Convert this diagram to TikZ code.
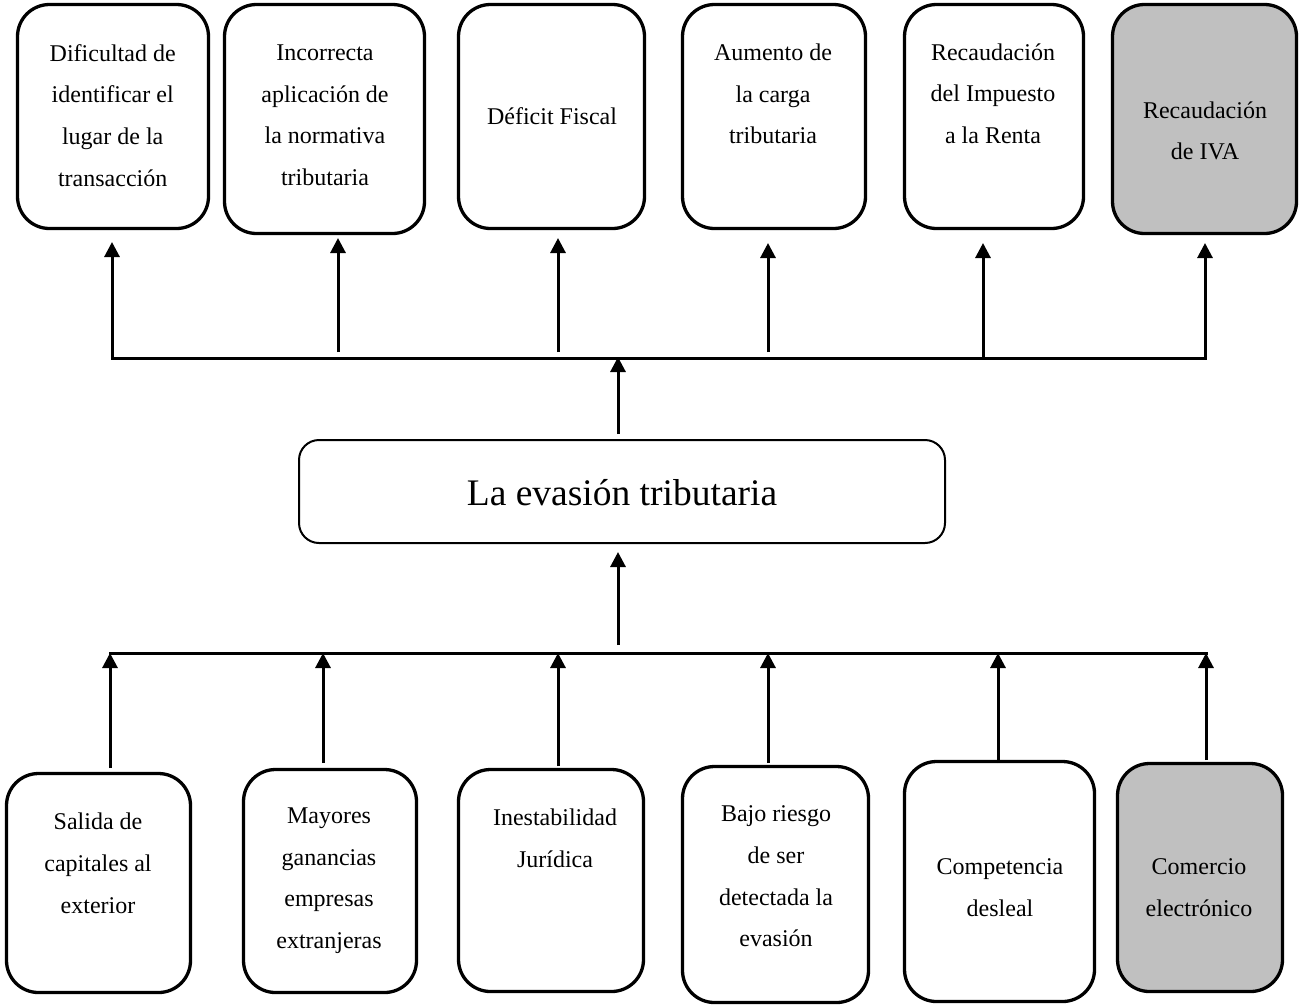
\documentclass[tikz,border=0pt]{standalone}
\usepackage{fontspec}
\setmainfont{Liberation Serif}
\usetikzlibrary{arrows.meta}
\definecolor{shade}{HTML}{C0C0C0}
\begin{document}
\begin{tikzpicture}[x=1pt,y=-1pt,
  card/.style={draw=black, line width=3.3pt, rounded corners=32pt, inner sep=0pt},
  greycard/.style={card, fill=shade},
  corebox/.style={draw=black, line width=2pt, rounded corners=20pt, inner sep=0pt},
  cardtext/.style={align=center, inner sep=0pt, font=\fontsize{24}{41.7}\selectfont,
    execute at begin node=\strut, execute at end node=\strut},
  link/.style={line width=3pt, -{Triangle[length=15pt,width=15pt]}},
  bus/.style={line width=3pt, line cap=rect}]
\useasboundingbox (0,0) rectangle (1300,1005);

% effects (top row)
\node[card,     minimum width=191pt, minimum height=224pt] (t1) at (113,116.5) {};
\node[card,     minimum width=200pt, minimum height=229pt] (t2) at (324.5,119) {};
\node[card,     minimum width=186pt, minimum height=224pt] (t3) at (551.5,116.5) {};
\node[card,     minimum width=183pt, minimum height=224pt] (t4) at (774,116.5) {};
\node[card,     minimum width=179pt, minimum height=224pt] (t5) at (994,116.5) {};
\node[greycard, minimum width=184pt, minimum height=229pt] (t6) at (1204.5,119) {};

\node[cardtext] (t1txt) at (112.7,121.5) {Dificultad de\\identificar el\\lugar de la\\transacción};
\node[cardtext] (t2txt) at (325,121.5) {Incorrecta\\aplicación de\\la normativa\\tributaria};
\node[cardtext] (t3txt) at (552,116.5) {Déficit Fiscal};
\node[cardtext] (t4txt) at (773,100.2) {Aumento de\\la carga\\tributaria};
\node[cardtext] (t5txt) at (993,99.8) {Recaudación\\del Impuesto\\a la Renta};
\node[cardtext] (t6txt) at (1205,137) {Recaudación\\de IVA};

% central problem
\node[corebox, minimum width=646pt, minimum height=103pt] (core) at (622,491.5) {};
\node[font=\fontsize{37.5}{45}\selectfont, anchor=base, inner sep=0pt] (coretxt) at (622,505) {La evasión tributaria};

% causes (bottom row)
\node[card,     minimum width=184pt, minimum height=219pt] (b1) at (98.5,883) {};
\node[card,     minimum width=173pt, minimum height=223pt] (b2) at (330,881) {};
\node[card,     minimum width=185pt, minimum height=222pt] (b3) at (551,880.5) {};
\node[card,     minimum width=186pt, minimum height=236pt] (b4) at (775.5,884.5) {};
\node[card,     minimum width=190pt, minimum height=240pt] (b5) at (999.5,881.5) {};
\node[greycard, minimum width=165pt, minimum height=228pt] (b6) at (1200,877.5) {};

\node[cardtext] (b1txt) at (98,869.5) {Salida de\\capitales al\\exterior};
\node[cardtext] (b2txt) at (329,884.5) {Mayores\\ganancias\\empresas\\extranjeras};
\node[cardtext] (b3txt) at (555,844.2) {Inestabilidad\\Jurídica};
\node[cardtext] (b4txt) at (776,882.5) {Bajo riesgo\\de ser\\detectada la\\evasión};
\node[cardtext] (b5txt) at (1000,893.5) {Competencia\\desleal};
\node[cardtext] (b6txt) at (1199,893.5) {Comercio\\electrónico};

% upper distribution bar
\coordinate (ubL) at (112,358);
\coordinate (ubR) at (1205,358);
\draw[bus] (ubL) -- (ubR);

\coordinate (uf2) at (338,352);
\coordinate (uf3) at (558,352);
\coordinate (uf4) at (768,352);
\coordinate (uf5) at (983,358);
\coordinate (ut1) at (112,242);
\coordinate (ut2) at (338,238);
\coordinate (ut3) at (558,238);
\coordinate (ut4) at (768,243);
\coordinate (ut5) at (983,243);
\coordinate (ut6) at (1205,243);
\draw[link] (ubL) -- (ut1);
\draw[link] (uf2) -- (ut2);
\draw[link] (uf3) -- (ut3);
\draw[link] (uf4) -- (ut4);
\draw[link] (uf5) -- (ut5);
\draw[link] (ubR) -- (ut6);

% central arrows
\coordinate (cUp) at (618,434);
\coordinate (cUpTip) at (618,357);
\draw[link] (cUp) -- (cUpTip);
\coordinate (cLo) at (618,645);
\coordinate (cLoTip) at (618,552);
\draw[link] (cLo) -- (cLoTip);

% lower collecting bar
\coordinate (lbL) at (110,653);
\coordinate (lbR) at (1206,653);
\draw[bus] (lbL) -- (lbR);

\coordinate (lf1) at (110,768);
\coordinate (lf2) at (323,763);
\coordinate (lf3) at (558,766);
\coordinate (lf4) at (768,763);
\coordinate (lf5) at (998,763);
\coordinate (lf6) at (1206,760);
\draw[link] (lf1) -- (lbL);
\draw[link] (lf2) -- (lf2 |- lbL);
\draw[link] (lf3) -- (lf3 |- lbL);
\draw[link] (lf4) -- (lf4 |- lbL);
\draw[link] (lf5) -- (lf5 |- lbL);
\draw[link] (lf6) -- (lbR);
\end{tikzpicture}
\end{document}
